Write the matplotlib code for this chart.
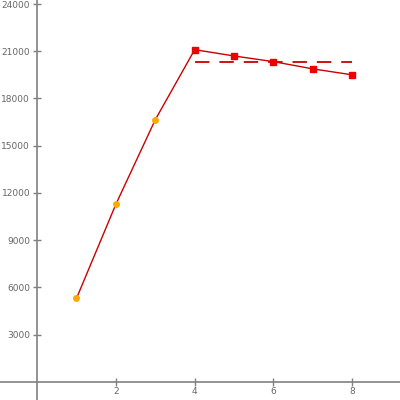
import matplotlib
matplotlib.use("Agg")
import matplotlib.pyplot as plt

x_vals = [1, 2, 3, 4, 5, 6, 7, 8]
y_vals = [5300, 11280, 16650, 21100, 20700, 20340, 19880, 19500]
avg_x = [4, 8]
avg_y = 20300

y_ticks = [3000, 6000, 9000, 12000, 15000, 18000, 21000, 24000]
x_ticks = [2, 4, 6, 8]

fig = plt.figure(figsize=(4, 4), dpi=100)
ax = fig.add_axes([0, 0, 1, 1])

ax.plot(x_vals, y_vals, color="#cc0000", lw=1, zorder=2)
ax.plot(x_vals[:3], y_vals[:3], "o", color="#ffaa00", ms=4, mec="#ffaa00", zorder=3)
ax.plot(x_vals[3:], y_vals[3:], "s", color="#ee0000", ms=4, zorder=3)
ax.hlines(avg_y, avg_x[0], avg_x[1], colors="#cc0000", linestyles=(0, (8, 5.5)), lw=1.3)

ax.set_xlim(-0.94, 9.21)
ax.set_ylim(-1150, 24255)

grey = "#808080"
ax.spines["left"].set_position(("data", 0))
ax.spines["bottom"].set_position(("data", 0))
ax.spines["right"].set_visible(False)
ax.spines["top"].set_visible(False)
for s in ["left", "bottom"]:
    ax.spines[s].set_color(grey)
    ax.spines[s].set_linewidth(1.2)

ax.set_xticks(x_ticks)
ax.set_yticks(y_ticks)
ax.set_xticklabels([str(t) for t in x_ticks])
ax.set_yticklabels([str(t) for t in y_ticks])
ax.tick_params(direction="inout", length=6, width=1, color=grey,
               labelcolor="#666666", labelsize=6.5)
ax.tick_params(axis="y", pad=2)
ax.tick_params(axis="x", pad=1)

fig.savefig("out.png", dpi=100)
